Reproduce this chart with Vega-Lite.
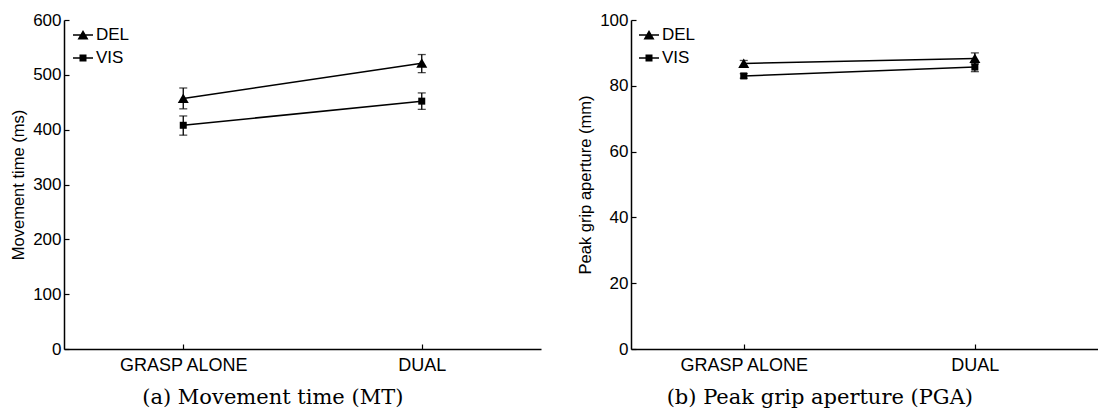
{
  "$schema": "https://vega.github.io/schema/vega-lite/v6.json",
  "padding": {"left": 10, "top": 11, "right": 0, "bottom": 0},
  "background": "white",
  "config": {
    "view": {"stroke": null},
    "font": "Liberation Sans",
    "axis": {
      "domainColor": "black", "domainWidth": 1.5, "tickColor": "black", "tickWidth": 1.2,
      "tickSize": -5, "labelFontSize": 17, "labelColor": "black", "labelFont": "Liberation Sans",
      "titleFontSize": 16.5, "titleFontWeight": "normal", "titleColor": "black", "titleFont": "Liberation Sans",
      "grid": false
    },
    "axisX": {"labelFontSize": 18},
    "legend": {
      "labelFontSize": 17, "labelColor": "black", "labelFont": "Liberation Sans",
      "symbolSize": 400, "labelOffset": 2, "rowPadding": 4, "padding": 0, "title": null
    },
    "title": {"font": "DejaVu Serif", "fontSize": 21, "fontWeight": "normal", "color": "black"}
  },
  "datasets": {
    "mt": [
      {"condition": "GRASP ALONE", "group": "DEL", "mean": 457, "lo": 438, "hi": 476},
      {"condition": "GRASP ALONE", "group": "VIS", "mean": 408, "lo": 390, "hi": 425},
      {"condition": "DUAL", "group": "DEL", "mean": 521, "lo": 504, "hi": 537},
      {"condition": "DUAL", "group": "VIS", "mean": 452, "lo": 437, "hi": 467}
    ],
    "pga": [
      {"condition": "GRASP ALONE", "group": "DEL", "mean": 86.8, "lo": 85.9, "hi": 87.7},
      {"condition": "GRASP ALONE", "group": "VIS", "mean": 83.0, "lo": 82.3, "hi": 83.7},
      {"condition": "DUAL", "group": "DEL", "mean": 88.3, "lo": 86.6, "hi": 90.0},
      {"condition": "DUAL", "group": "VIS", "mean": 85.7, "lo": 84.3, "hi": 87.0}
    ]
  },
  "resolve": {"legend": {"shape": "independent"}, "scale": {"shape": "independent"}},
  "spacing": 36,
  "hconcat": [
    {
      "width": 477, "height": 329,
      "data": {"name": "mt"},
      "title": {"text": "(a) Movement time (MT)", "orient": "bottom", "frame": "bounds", "anchor": "middle", "offset": 13, "dx": -3},
      "encoding": {
        "x": {"field": "condition", "type": "nominal", "sort": ["GRASP ALONE", "DUAL"],
              "scale": {"type": "point", "padding": 0.5},
              "axis": {"title": null, "labelAngle": 0, "labelPadding": 12}}
      },
      "resolve": {"scale": {"shape": "independent"}, "legend": {"shape": "independent"}},
      "layer": [
        {
          "mark": {"type": "line", "color": "black", "strokeWidth": 1.5},
          "encoding": {
            "y": {"field": "mean", "type": "quantitative", "scale": {"domain": [0, 600]},
                  "axis": {"title": "Movement time (ms)", "values": [0, 100, 200, 300, 400, 500, 600], "labelPadding": 8, "titlePadding": 6}},
            "detail": {"field": "group"}
          }
        },
        {
          "mark": {"type": "errorbar", "color": "black", "thickness": 1.3, "ticks": {"size": 8, "thickness": 1.3, "color": "black"}},
          "encoding": {
            "y": {"field": "lo", "type": "quantitative", "title": "Movement time (ms)"},
            "y2": {"field": "hi"},
            "detail": {"field": "group"}
          }
        },
        {
          "mark": {"type": "point", "filled": true, "color": "black", "opacity": 1, "size": 400},
          "encoding": {
            "y": {"field": "mean", "type": "quantitative", "title": "Movement time (ms)"},
            "shape": {"field": "group", "type": "nominal",
                      "scale": {"domain": ["DEL", "VIS"], "range": ["M0,-0.5L0.55,0.45L-0.55,0.45Z", "M-0.35,-0.35L0.35,-0.35L0.35,0.35L-0.35,0.35Z"]},
                      "legend": null}
          }
        },
        {
          "transform": [{"filter": "false"}],
          "mark": {"type": "point", "filled": true, "color": "black", "opacity": 1, "size": 400},
          "encoding": {
            "y": {"field": "mean", "type": "quantitative", "title": "Movement time (ms)"},
            "shape": {"field": "group", "type": "nominal",
                      "scale": {"domain": ["DEL", "VIS"], "range": ["M-1,-0.065L1,-0.065L1,0.065L-1,0.065ZM0,-0.5L0.55,0.45L-0.55,0.45Z", "M-1,-0.065L1,-0.065L1,0.065L-1,0.065ZM-0.35,-0.35L0.35,-0.35L0.35,0.35L-0.35,0.35Z"]},
                      "legend": {"orient": "none", "legendX": 8, "legendY": 4, "title": null, "symbolFillColor": "black"}}
          }
        }
      ]
    },
    {
      "width": 471, "height": 329,
      "data": {"name": "pga"},
      "title": {"text": "(b) Peak grip aperture (PGA)", "orient": "bottom", "frame": "bounds", "anchor": "middle", "offset": 13, "dx": -20},
      "encoding": {
        "x": {"field": "condition", "type": "nominal", "sort": ["GRASP ALONE", "DUAL"],
              "scale": {"type": "point", "padding": 0.519, "align": 0.47},
              "axis": {"title": null, "labelAngle": 0, "labelPadding": 12}}
      },
      "resolve": {"scale": {"shape": "independent"}, "legend": {"shape": "independent"}},
      "layer": [
        {
          "mark": {"type": "line", "color": "black", "strokeWidth": 1.5},
          "encoding": {
            "y": {"field": "mean", "type": "quantitative", "scale": {"domain": [0, 100]},
                  "axis": {"title": "Peak grip aperture (mm)", "values": [0, 20, 40, 60, 80, 100], "labelPadding": 8, "titlePadding": 6}},
            "detail": {"field": "group"}
          }
        },
        {
          "mark": {"type": "errorbar", "color": "black", "thickness": 1.3, "ticks": {"size": 8, "thickness": 1.3, "color": "black"}},
          "encoding": {
            "y": {"field": "lo", "type": "quantitative", "title": "Peak grip aperture (mm)"},
            "y2": {"field": "hi"},
            "detail": {"field": "group"}
          }
        },
        {
          "mark": {"type": "point", "filled": true, "color": "black", "opacity": 1, "size": 400},
          "encoding": {
            "y": {"field": "mean", "type": "quantitative", "title": "Peak grip aperture (mm)"},
            "shape": {"field": "group", "type": "nominal",
                      "scale": {"domain": ["DEL", "VIS"], "range": ["M0,-0.5L0.55,0.45L-0.55,0.45Z", "M-0.35,-0.35L0.35,-0.35L0.35,0.35L-0.35,0.35Z"]},
                      "legend": null}
          }
        },
        {
          "transform": [{"filter": "false"}],
          "mark": {"type": "point", "filled": true, "color": "black", "opacity": 1, "size": 400},
          "encoding": {
            "y": {"field": "mean", "type": "quantitative", "title": "Peak grip aperture (mm)"},
            "shape": {"field": "group", "type": "nominal",
                      "scale": {"domain": ["DEL", "VIS"], "range": ["M-1,-0.065L1,-0.065L1,0.065L-1,0.065ZM0,-0.5L0.55,0.45L-0.55,0.45Z", "M-1,-0.065L1,-0.065L1,0.065L-1,0.065ZM-0.35,-0.35L0.35,-0.35L0.35,0.35L-0.35,0.35Z"]},
                      "legend": {"orient": "none", "legendX": 7, "legendY": 4, "title": null, "symbolFillColor": "black"}}
          }
        }
      ]
    }
  ]
}
